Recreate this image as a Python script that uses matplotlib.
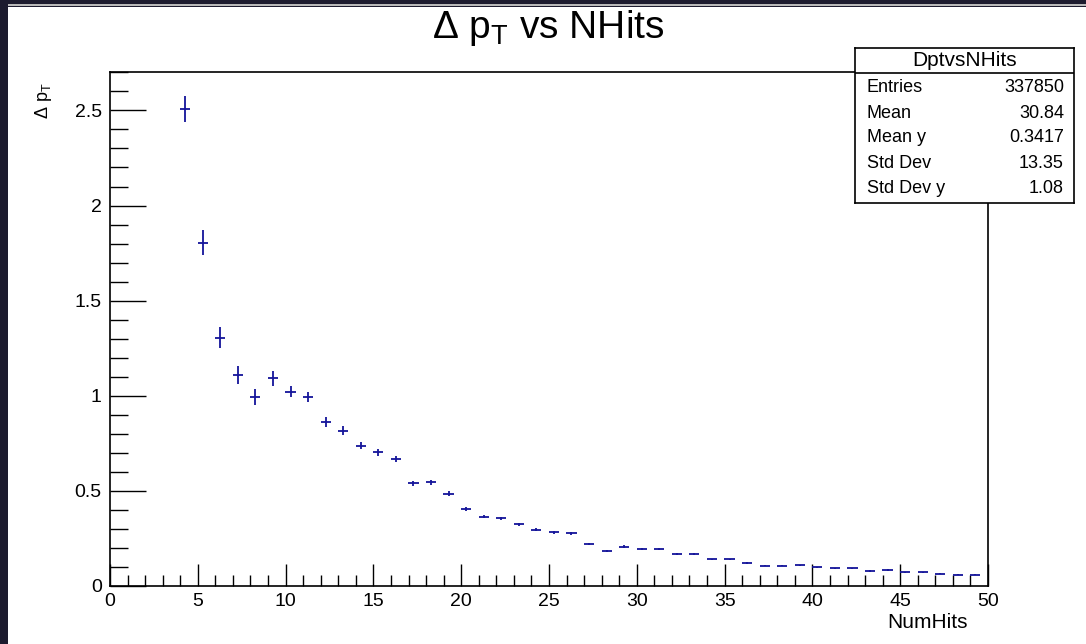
import matplotlib.pyplot as plt
from matplotlib.patches import Rectangle
from matplotlib.ticker import MultipleLocator
import numpy as np

plt.rcParams["font.family"] = ["Liberation Sans", "DejaVu Sans"]
plt.rcParams["mathtext.fontset"] = "custom"
plt.rcParams["mathtext.rm"] = "Liberation Sans"
plt.rcParams["mathtext.it"] = "Liberation Sans"

# profile bins (NumHits), mean delta pT and error per bin
nhits = np.arange(4, 50) + 0.28
dpt = [2.508, 1.805, 1.306, 1.108, 0.992, 1.092, 1.020, 0.992,
       0.861, 0.817, 0.738, 0.703, 0.668, 0.540, 0.545, 0.484,
       0.406, 0.364, 0.356, 0.324, 0.296, 0.282, 0.277, 0.222,
       0.184, 0.207, 0.195, 0.193, 0.168, 0.168, 0.140, 0.140,
       0.121, 0.107, 0.107, 0.109, 0.099, 0.093, 0.092, 0.079,
       0.084, 0.072, 0.072, 0.065, 0.060, 0.060]
dpt_err = [0.070, 0.065, 0.054, 0.048, 0.042, 0.040, 0.029, 0.027,
           0.026, 0.024, 0.020, 0.019, 0.017, 0.014, 0.014, 0.013,
           0.011, 0.009, 0.009, 0.008, 0.007, 0.007, 0.007, 0.006,
           0.005, 0.006, 0.006, 0.005, 0.005, 0.005, 0.004, 0.004,
           0.004, 0.003, 0.003, 0.003, 0.003, 0.003, 0.003, 0.003,
           0.003, 0.003, 0.003, 0.003, 0.003, 0.003]

stat_names = ["Entries", "Mean", "Mean y", "Std Dev", "Std Dev y"]
stat_values = ["337850", "30.84", "0.3417", "13.35", "1.08"]

W, H = 1086, 644
fig = plt.figure(figsize=(W / 100, H / 100), dpi=100)
fig.patch.set_facecolor("#1c1b2e")
# white canvas inside the dark window frame
fig.patches.append(Rectangle((8 / W, 0), 1 - 8 / W, 1 - 7 / H, transform=fig.transFigure,
                             facecolor="white", edgecolor="none", zorder=-5))
fig.patches.append(Rectangle((8 / W, 1 - 6 / H), 1 - 8 / W, 2 / H, transform=fig.transFigure,
                             facecolor="#b8b8b8", edgecolor="none", zorder=-5))

ax = fig.add_axes([110 / W, 1 - 586 / H, 878 / W, 514 / H])
ax.set_zorder(2)
ax.errorbar(nhits, dpt, yerr=dpt_err, xerr=0.29, fmt="none",
            ecolor="#14149a", elinewidth=1.3, capsize=0)
ax.set_xlim(0, 50)
ax.set_ylim(0, 2.702)
ax.xaxis.set_major_locator(MultipleLocator(5))
ax.xaxis.set_minor_locator(MultipleLocator(1))
ax.yaxis.set_major_locator(MultipleLocator(0.5))
ax.yaxis.set_minor_locator(MultipleLocator(0.1))
ax.yaxis.set_major_formatter(plt.FuncFormatter(lambda v, p: f"{v:g}"))
ax.tick_params(axis="both", which="both", direction="in", labelsize=14, color="black")
ax.tick_params(axis="x", which="major", length=16, width=1, pad=5)
ax.tick_params(axis="x", which="minor", length=8, width=1)
ax.tick_params(axis="y", which="major", length=26, width=1, pad=6)
ax.tick_params(axis="y", which="minor", length=13, width=1)
for s in ax.spines.values():
    s.set_linewidth(1.2)

fig.text(548 / W, 1 - 28 / H, r"Δ p$_{\mathregular{T}}$ vs NHits",
         ha="center", va="center", fontsize=28)
fig.text(968 / W, 1 - 622 / H, "NumHits", ha="right", va="center", fontsize=15)
fig.text(43 / W, 1 - 82 / H, r"Δ p$_{\mathregular{T}}$", rotation=90,
         ha="center", va="top", fontsize=13)

# statistics box
sb = fig.add_axes([855 / W, 1 - 203 / H, 219 / W, 155 / H])
sb.set_zorder(3)
sb.set_xticks([])
sb.set_yticks([])
sb.set_xlim(0, 1)
sb.set_ylim(0, 1)
for s in sb.spines.values():
    s.set_linewidth(1.2)
hy = (203 - 73) / 155
sb.axhline(hy, color="black", lw=1.2)
sb.text(0.5, (hy + 1) / 2, "DptvsNHits", ha="center", va="center", fontsize=15)
row_y = [88, 113, 137, 163, 188]
for name, val, py in zip(stat_names, stat_values, row_y):
    yy = (203 - py) / 155
    sb.text(12 / 219, yy, name, ha="left", va="center", fontsize=13)
    sb.text(1 - 10 / 219, yy, val, ha="right", va="center", fontsize=13)

fig.savefig("out.png", dpi=100, facecolor=fig.get_facecolor())
